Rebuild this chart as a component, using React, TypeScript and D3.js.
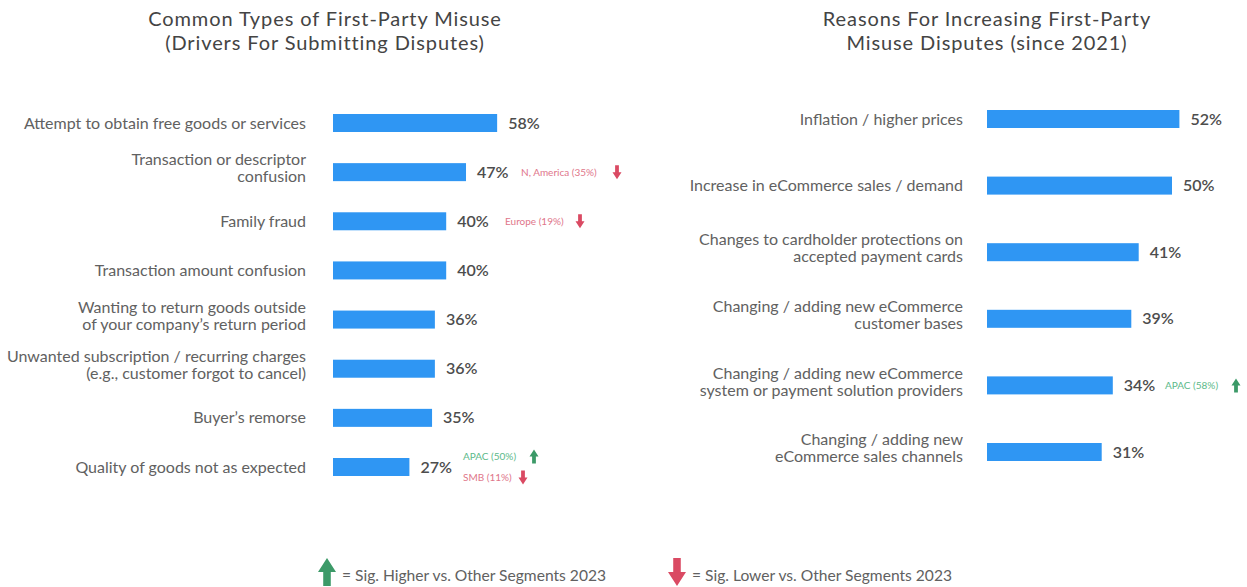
import React from "react";
import * as d3 from "d3";

const leftTitle = ["Common Types of First-Party Misuse", "(Drivers For Submitting Disputes)"];
const leftCategories = [
  "Attempt to obtain free goods or services",
  "Transaction or descriptor\nconfusion",
  "Family fraud",
  "Transaction amount confusion",
  "Wanting to return goods outside\nof your company’s return period",
  "Unwanted subscription / recurring charges\n(e.g., customer forgot to cancel)",
  "Buyer’s remorse",
  "Quality of goods not as expected",
];
const leftValues = [58, 47, 40, 40, 36, 36, 35, 27];

const rightTitle = ["Reasons For Increasing First-Party", "Misuse Disputes (since 2021)"];
const rightCategories = [
  "Inflation / higher prices",
  "Increase in eCommerce sales / demand",
  "Changes to cardholder protections on\naccepted payment cards",
  "Changing / adding new eCommerce\ncustomer bases",
  "Changing / adding new eCommerce\nsystem or payment solution providers",
  "Changing / adding new\neCommerce sales channels",
];
const rightValues = [52, 50, 41, 39, 34, 31];

type Note = { index: number; text: string; dir: "up" | "down"; row: number };
const leftNotes: Note[] = [
  { index: 1, text: "N, America (35%)", dir: "down", row: 0 },
  { index: 2, text: "Europe (19%)", dir: "down", row: 0 },
  { index: 7, text: "APAC (50%)", dir: "up", row: -1 },
  { index: 7, text: "SMB (11%)", dir: "down", row: 1 },
];
const rightNotes: Note[] = [{ index: 4, text: "APAC (58%)", dir: "up", row: 0 }];

const legendItems = [
  { dir: "up" as const, text: "= Sig. Higher vs. Other Segments 2023" },
  { dir: "down" as const, text: "= Sig. Lower vs. Other Segments 2023" },
];

const BAR = "#2f96f3";
const GREEN = "#3c9a68";
const RED = "#da4a63";
const GREEN_T = "#5cb98a";
const RED_T = "#e0768a";
const TEXT = "#616161";
const FONT = "Lato, 'Open Sans', sans-serif";

function Arrow({ x, y, dir, w, h, color }: { x: number; y: number; dir: "up" | "down"; w: number; h: number; color: string }) {
  const hh = h * 0.5;
  const sw = w * 0.42;
  const top = y - h / 2;
  const bot = y + h / 2;
  let d: string;
  if (dir === "up") {
    d = `M${x},${top} L${x + w / 2},${top + hh} L${x + sw / 2},${top + hh} L${x + sw / 2},${bot} L${x - sw / 2},${bot} L${x - sw / 2},${top + hh} L${x - w / 2},${top + hh} Z`;
  } else {
    d = `M${x},${bot} L${x + w / 2},${bot - hh} L${x + sw / 2},${bot - hh} L${x + sw / 2},${top} L${x - sw / 2},${top} L${x - sw / 2},${bot - hh} L${x - w / 2},${bot - hh} Z`;
  }
  return <path d={d} fill={color} />;
}

function Panel({
  title, titleX, categories, values, x0, pxPer, yFirst, yLast, labelX, notes, noteOffsets,
}: {
  title: string[]; titleX: number; categories: string[]; values: number[]; x0: number; pxPer: number;
  yFirst: number; yLast: number; labelX: number; notes: Note[]; noteOffsets: { tx: number; ax: number }[];
}) {
  const x = d3.scaleLinear().domain([0, 100]).range([x0, x0 + pxPer * 100]);
  const y = d3.scalePoint<number>().domain(d3.range(categories.length)).range([yFirst, yLast]);
  const bh = 18;
  return (
    <g>
      {title.map((t, i) => (
        <text key={i} x={titleX} y={19 + i * 24} dy="0.35em" textAnchor="middle" fontSize={20} letterSpacing={0.9} fill="#444" fontFamily={FONT}>{t}</text>
      ))}
      {categories.map((c, i) => {
        const cy = y(i)!;
        const lines = c.split("\n");
        const shift = lines.length > 1 ? -4 : 0;
        return (
          <g key={i}>
            {lines.map((l, j) => (
              <text key={j} x={labelX} y={cy + shift + (j - (lines.length - 1) / 2) * 17} dy="0.35em" textAnchor="end" fontSize={16} fill={TEXT} fontFamily={FONT}>{l}</text>
            ))}
            <rect x={x(0)} y={cy - bh / 2} width={x(values[i]) - x(0)} height={bh} fill={BAR} />
            <text x={x(values[i]) + 11} y={cy} dy="0.35em" fontSize={16} fontWeight={600} fill="#4d4d4d" fontFamily={FONT}>{values[i]}%</text>
          </g>
        );
      })}
      {notes.map((n, k) => {
        const cy = y(n.index)! + n.row * 10.5;
        const off = noteOffsets[k];
        const up = n.dir === "up";
        return (
          <g key={k}>
            <text x={off.tx} y={cy} dy="0.35em" fontSize={10} fill={up ? GREEN_T : RED_T} fontFamily={FONT}>{n.text}</text>
            <Arrow x={off.ax} y={cy} dir={n.dir} w={9} h={14} color={up ? GREEN : RED} />
          </g>
        );
      })}
    </g>
  );
}

export default function App() {
  return (
    <svg width={1247} height={587} style={{ position: "absolute", left: 0, top: 0, background: "#fff" }}>
      <rect width={1247} height={587} fill="#fff" />
      <Panel
        title={leftTitle} titleX={325} categories={leftCategories} values={leftValues}
        x0={333} pxPer={2.83} yFirst={123} yLast={467} labelX={306}
        notes={leftNotes}
        noteOffsets={[{ tx: 521, ax: 617 }, { tx: 505, ax: 580 }, { tx: 463, ax: 534 }, { tx: 463, ax: 523 }]}
      />
      <Panel
        title={rightTitle} titleX={987} categories={rightCategories} values={rightValues}
        x0={987} pxPer={3.7} yFirst={119} yLast={452} labelX={963}
        notes={rightNotes}
        noteOffsets={[{ tx: 1165, ax: 1236 }]}
      />
      {legendItems.map((it, i) => {
        const ax = i === 0 ? 327 : 677;
        return (
          <g key={i}>
            <Arrow x={ax} y={572} dir={it.dir} w={18} h={28} color={it.dir === "up" ? GREEN : RED} />
            <text x={ax + 15} y={576} dy="0.35em" fontSize={15.6} fill={TEXT} fontFamily={FONT}>{it.text}</text>
          </g>
        );
      })}
    </svg>
  );
}
